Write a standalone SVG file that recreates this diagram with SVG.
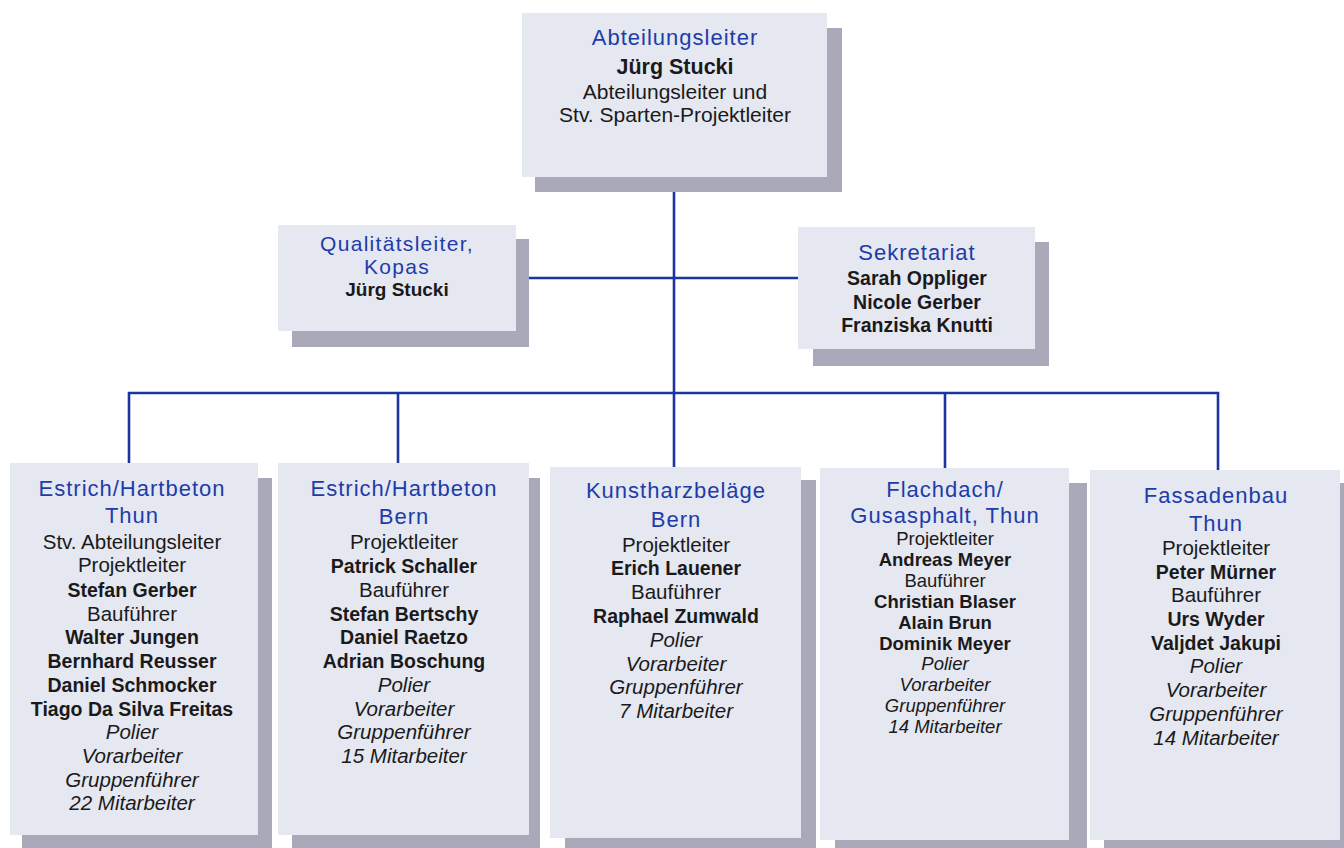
<svg xmlns="http://www.w3.org/2000/svg" width="1344" height="848" viewBox="0 0 1344 848">
<style>
.bg{fill:#ffffff}
.sh{fill:#a9a9ba}
.bx{fill:#e5e7f1}
.ln{stroke:#1d35a0;stroke-width:2.6;fill:none}
text{font-family:"Liberation Sans",Arial,sans-serif;text-anchor:middle;fill:#1a1a1a}
.t{fill:#1e3ca8;font-size:22px;letter-spacing:1px}
.r{font-size:20.5px}
.b{font-size:19.5px;font-weight:bold}
.i{font-size:20.5px;font-style:italic}
.s{font-size:18.5px}
</style>
<rect class="bg" x="0" y="0" width="1344" height="848"/>
<g id="connectors">
<line class="ln" x1="674" y1="177" x2="674" y2="393"/>
<line class="ln" x1="516" y1="278" x2="798" y2="278"/>
<polyline class="ln" points="129,463 129,393 1218,393 1218,470"/>
<line class="ln" x1="398" y1="393" x2="398" y2="463"/>
<line class="ln" x1="674" y1="393" x2="674" y2="467"/>
<line class="ln" x1="945" y1="393" x2="945" y2="468"/>
</g>
<g id="node-abteilungsleiter">
<rect class="sh" x="535" y="28" width="307" height="164"/>
<rect class="bx" x="522" y="13" width="305" height="164"/>
<text><tspan class="t" x="675" y="45">Abteilungsleiter</tspan><tspan class="b" style="font-size:21.5px" x="675" y="74">Jürg Stucki</tspan><tspan class="r" style="font-size:21px" x="675" y="99">Abteilungsleiter und</tspan><tspan class="r" style="font-size:21px" x="675" y="122">Stv. Sparten-Projektleiter</tspan></text>
</g>
<g id="node-qualitaet">
<rect class="sh" x="292" y="239" width="237" height="108"/>
<rect class="bx" x="278" y="225" width="238" height="106"/>
<text><tspan class="t" style="font-size:21px;letter-spacing:1.3px" x="397" y="251">Qualitätsleiter,</tspan><tspan class="t" style="font-size:21px;letter-spacing:1.3px" x="397" y="274">Kopas</tspan><tspan class="b" style="font-size:19px" x="397" y="296">Jürg Stucki</tspan></text>
</g>
<g id="node-sekretariat">
<rect class="sh" x="813" y="242" width="236" height="124"/>
<rect class="bx" x="798" y="227" width="237" height="122"/>
<text><tspan class="t" x="917" y="260">Sekretariat</tspan><tspan class="b" x="917" y="285">Sarah Oppliger</tspan><tspan class="b" x="917" y="309">Nicole Gerber</tspan><tspan class="b" x="917" y="332">Franziska Knutti</tspan></text>
</g>
<g id="node-estrich-thun">
<rect class="sh" x="22" y="478" width="250" height="380"/>
<rect class="bx" x="10" y="463" width="248" height="372"/>
<text><tspan class="t" x="132" y="496">Estrich/Hartbeton</tspan><tspan class="t" x="132" y="523">Thun</tspan><tspan class="r" x="132" y="549">Stv. Abteilungsleiter</tspan><tspan class="r" x="132" y="572">Projektleiter</tspan><tspan class="b" x="132" y="597">Stefan Gerber</tspan><tspan class="r" x="132" y="621">Bauführer</tspan><tspan class="b" x="132" y="644">Walter Jungen</tspan><tspan class="b" x="132" y="668">Bernhard Reusser</tspan><tspan class="b" x="132" y="692">Daniel Schmocker</tspan><tspan class="b" x="132" y="716">Tiago Da Silva Freitas</tspan><tspan class="i" x="132" y="739">Polier</tspan><tspan class="i" x="132" y="763">Vorarbeiter</tspan><tspan class="i" x="132" y="787">Gruppenführer</tspan><tspan class="i" x="132" y="810">22 Mitarbeiter</tspan></text>
</g>
<g id="node-estrich-bern">
<rect class="sh" x="292" y="478" width="248" height="380"/>
<rect class="bx" x="278" y="463" width="251" height="372"/>
<text><tspan class="t" x="404" y="496">Estrich/Hartbeton</tspan><tspan class="t" x="404" y="524">Bern</tspan><tspan class="r" x="404" y="549">Projektleiter</tspan><tspan class="b" x="404" y="573">Patrick Schaller</tspan><tspan class="r" x="404" y="597">Bauführer</tspan><tspan class="b" x="404" y="621">Stefan Bertschy</tspan><tspan class="b" x="404" y="644">Daniel Raetzo</tspan><tspan class="b" x="404" y="668">Adrian Boschung</tspan><tspan class="i" x="404" y="692">Polier</tspan><tspan class="i" x="404" y="716">Vorarbeiter</tspan><tspan class="i" x="404" y="739">Gruppenführer</tspan><tspan class="i" x="404" y="763">15 Mitarbeiter</tspan></text>
</g>
<g id="node-kunstharz">
<rect class="sh" x="565" y="480" width="251" height="380"/>
<rect class="bx" x="550" y="467" width="251" height="371"/>
<text><tspan class="t" x="676" y="498">Kunstharzbeläge</tspan><tspan class="t" x="676" y="527">Bern</tspan><tspan class="r" x="676" y="552">Projektleiter</tspan><tspan class="b" x="676" y="575">Erich Lauener</tspan><tspan class="r" x="676" y="599">Bauführer</tspan><tspan class="b" x="676" y="623">Raphael Zumwald</tspan><tspan class="i" x="676" y="647">Polier</tspan><tspan class="i" x="676" y="671">Vorarbeiter</tspan><tspan class="i" x="676" y="694">Gruppenführer</tspan><tspan class="i" x="676" y="718">7 Mitarbeiter</tspan></text>
</g>
<g id="node-flachdach">
<rect class="sh" x="835" y="483" width="252" height="380"/>
<rect class="bx" x="820" y="468" width="249" height="372"/>
<text><tspan class="t" x="945" y="497">Flachdach/</tspan><tspan class="t" x="945" y="523">Gusasphalt, Thun</tspan><tspan class="r s" x="945" y="545">Projektleiter</tspan><tspan class="b s" x="945" y="566">Andreas Meyer</tspan><tspan class="r s" x="945" y="587">Bauführer</tspan><tspan class="b s" x="945" y="608">Christian Blaser</tspan><tspan class="b s" x="945" y="629">Alain Brun</tspan><tspan class="b s" x="945" y="650">Dominik Meyer</tspan><tspan class="i s" x="945" y="670">Polier</tspan><tspan class="i s" x="945" y="691">Vorarbeiter</tspan><tspan class="i s" x="945" y="712">Gruppenführer</tspan><tspan class="i s" x="945" y="733">14 Mitarbeiter</tspan></text>
</g>
<g id="node-fassadenbau">
<rect class="sh" x="1104" y="483" width="240" height="380"/>
<rect class="bx" x="1090" y="470" width="250" height="370"/>
<text><tspan class="t" x="1216" y="503">Fassadenbau</tspan><tspan class="t" x="1216" y="531">Thun</tspan><tspan class="r" x="1216" y="555">Projektleiter</tspan><tspan class="b" x="1216" y="579">Peter Mürner</tspan><tspan class="r" x="1216" y="602">Bauführer</tspan><tspan class="b" x="1216" y="626">Urs Wyder</tspan><tspan class="b" x="1216" y="650">Valjdet Jakupi</tspan><tspan class="i" x="1216" y="673">Polier</tspan><tspan class="i" x="1216" y="697">Vorarbeiter</tspan><tspan class="i" x="1216" y="721">Gruppenführer</tspan><tspan class="i" x="1216" y="745">14 Mitarbeiter</tspan></text>
</g>
</svg>
